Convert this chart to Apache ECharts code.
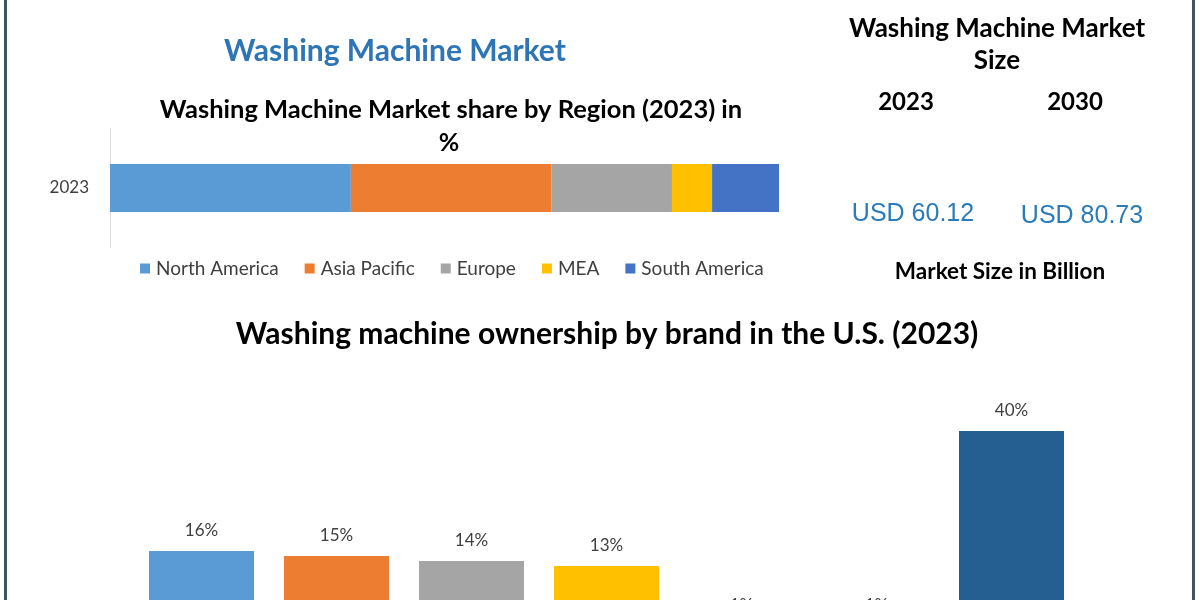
<!DOCTYPE html>
<html>
<head>
<meta charset="utf-8">
<script src="https://cdn.jsdelivr.net/npm/echarts@6/dist/echarts.min.js"></script>
<style>
html,body{margin:0;padding:0;background:#fff;overflow:hidden;}
#c{width:1200px;height:640px;}
</style>
</head>
<body>
<div id="c"></div>
<script>
// Region share (2023), %
const regionNames = ["North America", "Asia Pacific", "Europe", "MEA", "South America"];
const regionValues = [36, 30, 18, 6, 10];
const regionColors = ["#5b9bd5", "#ed7d31", "#a5a5a5", "#ffc000", "#4472c4"];
const regionYear = ["2023"];

// Brand ownership in the U.S. (2023), %
const brandNames = ["Whirlpool", "LG", "Samsung", "GE", "Maytag", "Electrolux", "Others"];
const brandValues = [16, 15, 14, 13, 1, 1, 40];
const brandColors = ["#5b9bd5", "#ed7d31", "#a5a5a5", "#ffc000", "#4472c4", "#70ad47", "#255e91"];

// Market size panel
const sizeYears = ["2023", "2030"];
const sizeValues = ["USD 60.12", "USD 80.73"];

const FONT = "Lato, 'Open Sans', sans-serif";

const chart = echarts.init(document.getElementById('c'), null, {renderer: 'canvas'});

const regionSeries = regionNames.map((n, i) => ({
  name: n,
  type: 'bar',
  stack: 'total',
  xAxisIndex: 0,
  yAxisIndex: 0,
  barWidth: 48,
  itemStyle: {color: regionColors[i]},
  data: [regionValues[i]],
  silent: true
}));

function txt(x, y, text, size, color, weight, family) {
  return {
    type: 'text', x: x, y: y,
    style: {
      text: text, fill: color, fontSize: size, fontWeight: weight || 'bold',
      fontFamily: family || FONT, textAlign: 'center', textVerticalAlign: 'middle'
    }
  };
}

const option = {
  animation: false,
  backgroundColor: '#ffffff',
  grid: [
    {left: 110, right: 421, top: 128, height: 120, containLabel: false, outerBoundsMode: 'none'},
    {left: 134, right: 121, top: 381, height: 250, containLabel: false, outerBoundsMode: 'none'}
  ],
  xAxis: [
    {type: 'value', gridIndex: 0, min: 0, max: 100, show: false},
    {type: 'category', gridIndex: 1, data: brandNames,
     axisLine: {show: true, lineStyle: {color: '#d9d9d9'}},
     axisTick: {show: false},
     axisLabel: {color: '#595959', fontFamily: FONT, fontSize: 14}}
  ],
  yAxis: [
    {type: 'category', gridIndex: 0, data: regionYear,
     axisLine: {show: true, lineStyle: {color: '#d9d9d9'}},
     axisTick: {show: false},
     axisLabel: {color: '#404040', fontSize: 17, fontFamily: FONT, margin: 21}},
    {type: 'value', gridIndex: 1, min: 0, max: 50, show: false, splitLine: {show: false}}
  ],
  legend: {
    data: regionNames,
    left: 135, top: 254,
    itemWidth: 10, itemHeight: 10, itemGap: 26,
    icon: 'rect',
    textStyle: {color: '#404040', fontSize: 19, fontFamily: FONT, padding: [0, 0, 0, 1]},
    selectedMode: false
  },
  series: regionSeries.concat([{
    name: 'Ownership',
    type: 'bar',
    xAxisIndex: 1,
    yAxisIndex: 1,
    barWidth: 105,
    silent: true,
    data: brandValues.map((v, i) => ({value: v, itemStyle: {color: brandColors[i]}})),
    label: {
      show: true, position: 'top', distance: 12,
      formatter: '{c}%', color: '#404040', fontSize: 17, fontFamily: FONT
    }
  }]),
  graphic: [
    txt(395, 51, 'Washing Machine Market', 30, '#2e75b6'),
    txt(451, 110, 'Washing Machine Market share by Region (2023) in', 25.5, '#000000'),
    txt(449, 143, '%', 25, '#000000'),
    txt(997, 29, 'Washing Machine Market', 26, '#000000'),
    txt(997, 61, 'Size', 26, '#000000'),
    txt(906, 102, sizeYears[0], 24, '#000000'),
    txt(1075, 102, sizeYears[1], 24, '#000000'),
    txt(913, 214, sizeValues[0], 25, '#2b7bb9', 'normal', "'Liberation Sans', Arial, sans-serif"),
    txt(1082, 216, sizeValues[1], 25, '#2b7bb9', 'normal', "'Liberation Sans', Arial, sans-serif"),
    txt(1000, 272, 'Market Size in Billion', 22.5, '#000000'),
    txt(607, 334, 'Washing machine ownership by brand in the U.S. (2023)', 30, '#000000'),
    {type: 'rect', shape: {x: 4, y: 0, width: 3, height: 640}, style: {fill: '#3d5560'}},
    {type: 'rect', shape: {x: 1192, y: 0, width: 3, height: 640}, style: {fill: '#3d5560'}}
  ]
};
chart.setOption(option);
</script>
</body>
</html>
